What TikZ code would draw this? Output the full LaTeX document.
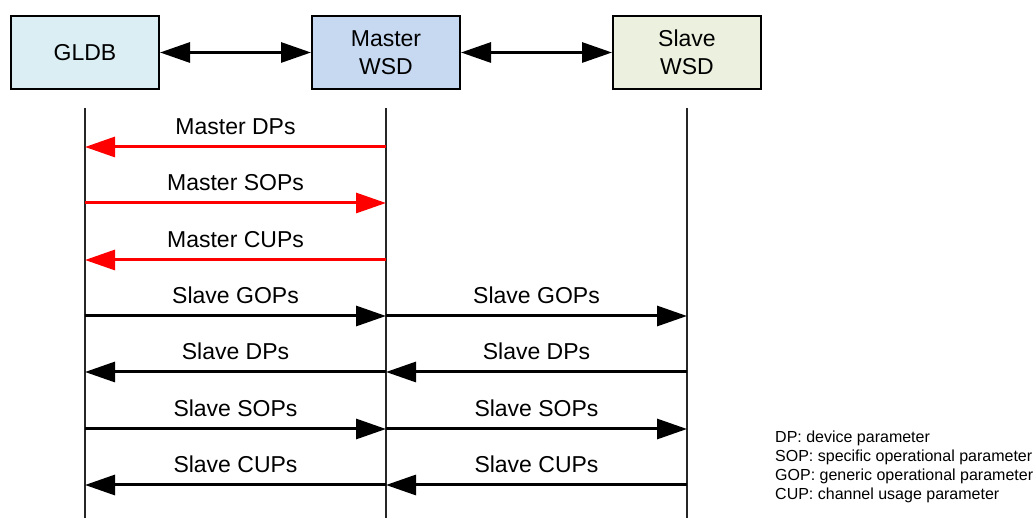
\documentclass[tikz,border=0pt]{standalone}
\usepackage{fontspec}
\setmainfont{Liberation Sans}
\usetikzlibrary{arrows.meta,positioning}
\definecolor{gldbc}{HTML}{DAEEF3}
\definecolor{mastc}{HTML}{C6D9F1}
\definecolor{slavc}{HTML}{EBF1DE}
\definecolor{msgred}{HTML}{FF0000}
\tikzset{ent/.style={draw,line width=2pt,minimum width=148pt,minimum height=73pt,
    align=center,font=\fontsize{23}{28}\selectfont},
  life/.style={line width=1.4pt,draw=black!85},
  bigtip/.tip={Triangle[length=30pt,width=20pt]},
  msgline/.style={line width=3pt,-bigtip},
  link/.style={line width=3pt,bigtip-bigtip},
  lbl/.style={anchor=base,yshift=12pt,inner sep=0pt,font=\fontsize{23}{26}\selectfont}}

\begin{document}
\begin{tikzpicture}[x=1pt,y=-1pt]
\useasboundingbox (0,0) rectangle (1034,518);
% entities
\node[ent,fill=gldbc] (gldb) at (85,52.5) {GLDB};
\node[ent,fill=mastc,right=151pt of gldb] (mwsd) {Master\\WSD};
\node[ent,fill=slavc,right=151pt of mwsd] (swsd) {Slave\\WSD};
\draw[link] (gldb) -- (mwsd);
\draw[link] (mwsd) -- (swsd);
% lifelines
\foreach \n in {gldb,mwsd,swsd}{
 \draw[life] (\n.south |- 0,108) -- (\n.south |- 0,518);
 \foreach \i/\y in {1/147,2/203,3/260,4/316,5/372,6/429,7/485}
  \coordinate (\n\i) at (\n.south |- 0,\y);
}
% master messages
\foreach \i/\a/\b/\t in {1/mwsd/gldb/Master DPs,2/gldb/mwsd/Master SOPs,3/mwsd/gldb/Master CUPs}
 \draw[msgline,msgred] (\a\i) -- node[lbl,text=black]{\t} (\b\i);
% slave messages
\foreach \i/\a/\b/\c/\t in {4/gldb/mwsd/swsd/Slave GOPs,5/swsd/mwsd/gldb/Slave DPs,
  6/gldb/mwsd/swsd/Slave SOPs,7/swsd/mwsd/gldb/Slave CUPs}{
 \draw[msgline] (\a\i) -- node[lbl]{\t} (\b\i);
 \draw[msgline] (\b\i) -- node[lbl]{\t} (\c\i);
}
% legend
\node[anchor=north west,inner sep=0pt,align=left,font=\fontsize{16}{19}\selectfont] (legend) at (775,431)
 {DP: device parameter\\SOP: specific operational parameter\\GOP: generic operational parameter\\CUP: channel usage parameter};
\end{tikzpicture}
\end{document}
